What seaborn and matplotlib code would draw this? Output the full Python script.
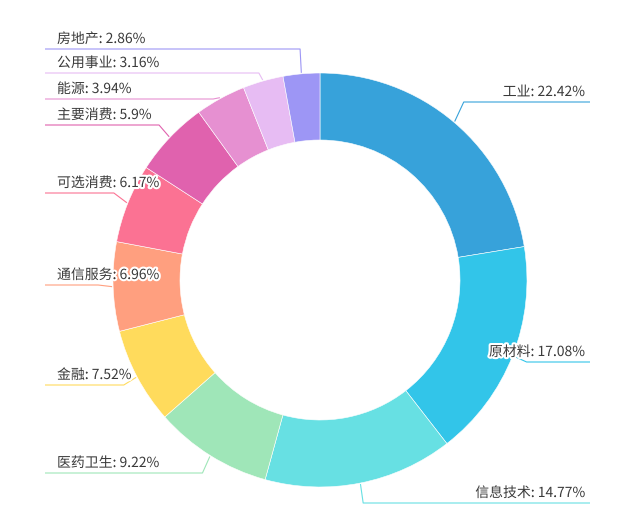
import numpy as np
import matplotlib
matplotlib.use("Agg")
import matplotlib.pyplot as plt
import matplotlib.patheffects as pe
import seaborn as sns

# ---- data ----
sectors = ["工业", "原材料", "信息技术", "医药卫生", "金融", "通信服务",
           "可选消费", "主要消费", "能源", "公用事业", "房地产"]
shares = [22.42, 17.08, 14.77, 9.22, 7.52, 6.96, 6.17, 5.9, 3.94, 3.16, 2.86]
palette_hex = ["#37a2da", "#32c5e9", "#67e0e3", "#9fe6b8", "#ffdb5c", "#ff9f7f",
               "#fb7293", "#e062ae", "#e690d1", "#e7bcf3", "#9d96f5"]

# ---- layout (pixel units, y measured from top) ----
W, H = 640, 527
CX, CY = 320, 280
R_OUT, R_IN = 207, 140
LEADER = 15
# y of the horizontal leader segment for each label (after overlap avoidance)
label_line_y = [102, 362, 503, 473, 385, 285, 193, 125, 99, 73, 49]
LEFT_TEXT_X, LEFT_EDGE_X = 57, 45
RIGHT_TEXT_X, RIGHT_EDGE_X = 585, 590

sns.set_theme(style="white")
plt.rcParams["font.family"] = ["Noto Sans CJK SC", "DejaVu Sans"]
colors = sns.color_palette(palette_hex)

fig = plt.figure(figsize=(W / 100, H / 100), dpi=100)
ax = fig.add_axes([0, 0, 1, 1])
ax.set_xlim(0, W)
ax.set_ylim(0, H)
ax.axis("off")

wedges, _ = ax.pie(shares, colors=colors, startangle=90, counterclock=False,
                   radius=R_OUT, center=(CX, H - CY),
                   wedgeprops=dict(width=R_OUT - R_IN, edgecolor="white", linewidth=0.4))
ax.set_xlim(0, W)
ax.set_ylim(0, H)
ax.set_aspect("auto")

halo = [pe.withStroke(linewidth=3, foreground="white")]
for w, name, val, col, ly in zip(wedges, sectors, shares, colors, label_line_y):
    ang = np.deg2rad((w.theta1 + w.theta2) / 2)
    cx, cy = w.center
    x0 = cx + (R_OUT + 1) * np.cos(ang)
    y0 = cy + (R_OUT + 1) * np.sin(ang)
    xt = cx + (R_OUT + LEADER) * np.cos(ang)
    yl = H - ly
    right = np.cos(ang) > 0
    xe = RIGHT_EDGE_X if right else LEFT_EDGE_X
    ax.plot([x0, xt, xe], [y0, yl, yl], color=col, lw=0.8, solid_capstyle="butt")
    txt = f"{name}: {val:g}%"
    if right:
        ax.text(RIGHT_TEXT_X, yl + 10, txt, ha="right", va="center", fontsize=10,
                color="#3a3a3a", path_effects=halo)
    else:
        ax.text(LEFT_TEXT_X, yl + 10, txt, ha="left", va="center", fontsize=10,
                color="#3a3a3a", path_effects=halo)

fig.savefig("out.png", dpi=100, facecolor="white")
